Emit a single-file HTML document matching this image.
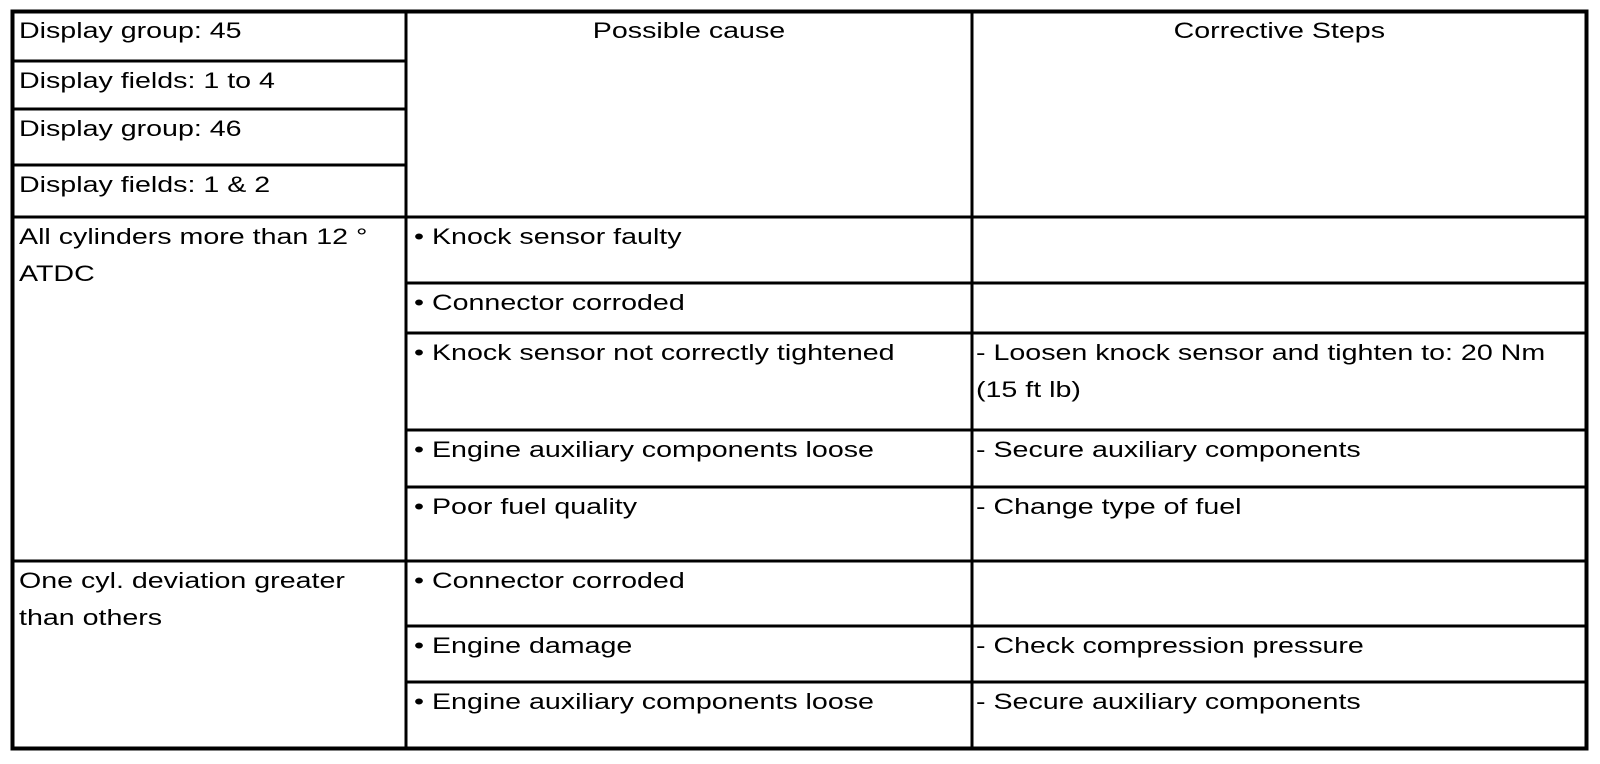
<!DOCTYPE html>
<html><head><meta charset="utf-8"><style>
body{margin:0;width:1600px;height:764px;background:#fff;position:relative;overflow:hidden;font-family:"Liberation Sans",Arial,sans-serif;}
.t{position:absolute;font-size:22px;line-height:37px;color:#000;white-space:nowrap;transform:scaleX(1.3);transform-origin:0 0;}
.c{position:absolute;font-size:22px;line-height:37px;color:#000;white-space:nowrap;text-align:center;}
.c span{display:inline-block;transform:scaleX(1.3);}
svg{position:absolute;left:0;top:0;}
</style></head><body>
<svg width="1600" height="764">
<g stroke="#000" fill="none">
<rect x="12.5" y="11.5" width="1574" height="737" stroke-width="4"/>
<line x1="406" y1="11" x2="406" y2="749" stroke-width="3"/>
<line x1="972" y1="11" x2="972" y2="749" stroke-width="3"/>
<line x1="12" y1="61" x2="406" y2="61" stroke-width="3"/>
<line x1="12" y1="109" x2="406" y2="109" stroke-width="3"/>
<line x1="12" y1="165" x2="406" y2="165" stroke-width="3"/>
<line x1="12" y1="217" x2="1587" y2="217" stroke-width="3"/>
<line x1="406" y1="283" x2="1587" y2="283" stroke-width="3"/>
<line x1="406" y1="333" x2="1587" y2="333" stroke-width="3"/>
<line x1="406" y1="430" x2="1587" y2="430" stroke-width="3"/>
<line x1="406" y1="487" x2="1587" y2="487" stroke-width="3"/>
<line x1="12" y1="561" x2="1587" y2="561" stroke-width="3"/>
<line x1="406" y1="626" x2="1587" y2="626" stroke-width="3"/>
<line x1="406" y1="682" x2="1587" y2="682" stroke-width="3"/>
</g></svg>
<div class="t" style="left:19px;top:12px">Display group: 45</div>
<div class="t" style="left:19px;top:62px">Display fields: 1 to 4</div>
<div class="t" style="left:19px;top:110px">Display group: 46</div>
<div class="t" style="left:19px;top:166px">Display fields: 1 &amp; 2</div>
<div class="c" style="left:406px;width:566px;top:12px"><span>Possible cause</span></div>
<div class="c" style="left:972px;width:614px;top:12px"><span>Corrective Steps</span></div>
<div class="t" style="left:19px;top:218px">All cylinders more than 12 °<br>ATDC</div>
<div class="t" style="left:414px;top:218px">• Knock sensor faulty</div>
<div class="t" style="left:414px;top:284px">• Connector corroded</div>
<div class="t" style="left:414px;top:334px">• Knock sensor not correctly tightened</div>
<div class="t" style="left:976px;top:334px">- Loosen knock sensor and tighten to: 20 Nm<br>(15 ft lb)</div>
<div class="t" style="left:414px;top:431px">• Engine auxiliary components loose</div>
<div class="t" style="left:976px;top:431px">- Secure auxiliary components</div>
<div class="t" style="left:414px;top:488px">• Poor fuel quality</div>
<div class="t" style="left:976px;top:488px">- Change type of fuel</div>
<div class="t" style="left:19px;top:562px">One cyl. deviation greater<br>than others</div>
<div class="t" style="left:414px;top:562px">• Connector corroded</div>
<div class="t" style="left:414px;top:627px">• Engine damage</div>
<div class="t" style="left:976px;top:627px">- Check compression pressure</div>
<div class="t" style="left:414px;top:683px">• Engine auxiliary components loose</div>
<div class="t" style="left:976px;top:683px">- Secure auxiliary components</div>
</body></html>
